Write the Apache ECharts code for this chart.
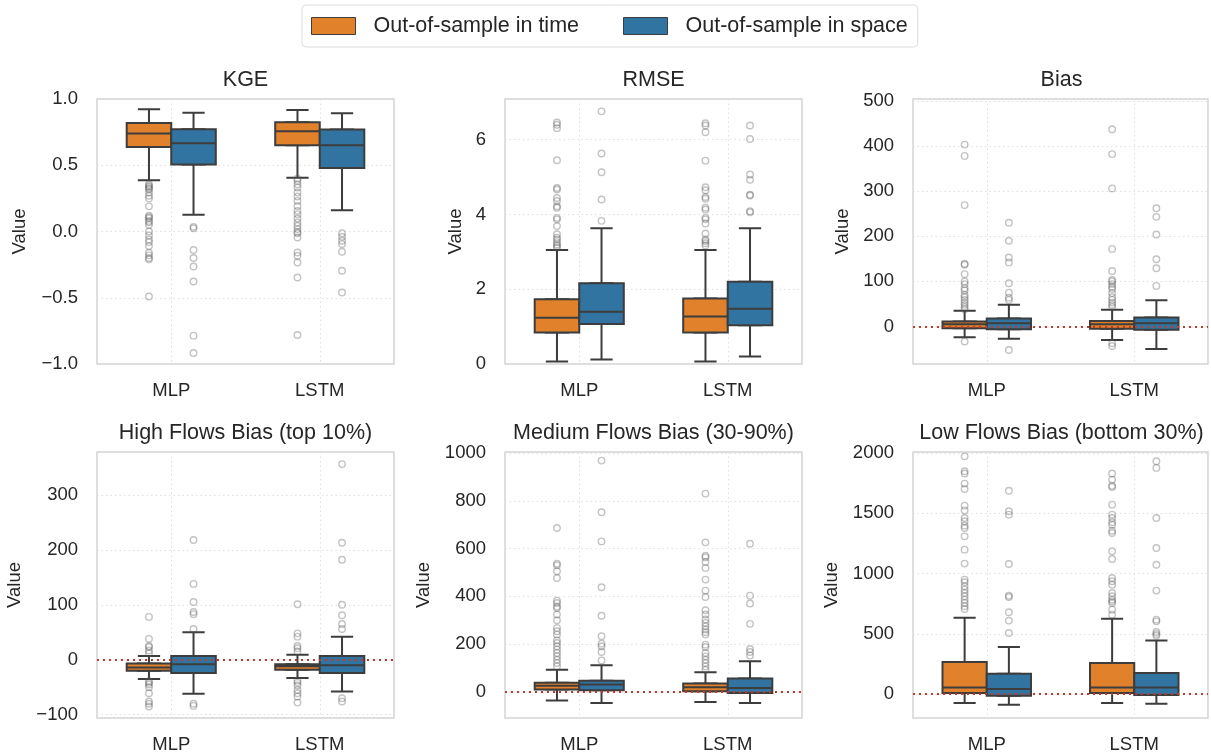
<!DOCTYPE html>
<html>
<head>
<meta charset="utf-8">
<script src="https://cdn.jsdelivr.net/npm/echarts@6/dist/echarts.min.js"></script>
<style>
  html, body { margin: 0; padding: 0; background: #fff; }
  #main { width: 1211px; height: 755px; }
</style>
</head>
<body>
<div id="main"></div>
<script>
// categories and hue groups
const models = ["MLP", "LSTM"];
const groups = ["Out-of-sample in time", "Out-of-sample in space"];

// box stats per model: [min whisker, Q1, median, Q3, max whisker]
const kgeTime = [[0.387, 0.638, 0.739, 0.819, 0.922], [0.405, 0.651, 0.756, 0.824, 0.917]];
const kgeSpace = [[0.126, 0.505, 0.666, 0.771, 0.897], [0.161, 0.48, 0.651, 0.769, 0.892]];
const kgeTimeOut = [
  [0.357, 0.345, 0.337, 0.326, 0.319, 0.294, 0.27, 0.25, 0.19, 0.12, 0.11, 0.1, 0.08, 0.07, 0.05, 0.0, -0.03, -0.06, -0.08, -0.11, -0.16, -0.18, -0.2, -0.21, -0.49],
  [0.399, 0.382, 0.357, 0.332, 0.294, 0.264, 0.231, 0.193, 0.156, 0.131, 0.098, 0.068, 0.043, 0.018, -0.003, -0.013, -0.045, -0.158, -0.183, -0.234, -0.347, -0.781]
];
const kgeSpaceOut = [
  [0.035, 0.025, -0.14, -0.2, -0.264, -0.377, -0.786, -0.917],
  [-0.013, -0.04, -0.07, -0.095, -0.153, -0.296, -0.46]
];

const rmseTime = [[0.07, 0.84, 1.24, 1.73, 3.05], [0.07, 0.84, 1.27, 1.75, 3.05]];
const rmseSpace = [[0.12, 1.07, 1.4, 2.16, 3.63], [0.2, 1.04, 1.48, 2.2, 3.63]];
const rmseTimeOut = [
  [6.46, 6.4, 6.31, 5.45, 4.71, 4.67, 4.44, 4.36, 4.22, 4.18, 3.91, 3.87, 3.69, 3.47, 3.38, 3.33, 3.26, 3.2, 3.16, 3.11],
  [6.44, 6.38, 6.2, 5.44, 4.73, 4.65, 4.47, 4.42, 4.18, 4.13, 3.91, 3.87, 3.76, 3.49, 3.33, 3.29, 3.23, 3.17]
];
const rmseSpaceOut = [
  [6.76, 5.63, 5.13, 4.4, 3.83],
  [6.38, 6.02, 5.07, 4.93, 4.53, 4.51, 4.09, 4.06]
];

const biasTime = [[-24, -4, 5, 11, 35], [-30, -5, 5, 12.5, 37]];
const biasSpace = [[-27, -6, 7, 18, 48], [-50, -7, 7, 20, 58]];
const biasTimeOut = [
  [403, 378, 269, 139, 137, 116, 100, 94, 85, 80, 70, 65, 59, 53, 48, 43, 38, -33],
  [437, 382, 306, 172, 123, 103, 100, 94, 88, 83, 74, 65, 59, 53, 48, 43, -37, -43]
];
const biasSpaceOut = [
  [230, 190, 153, 142, 96, 75, 64, 59, -52],
  [262, 243, 204, 149, 129, 90]
];

const highTime = [[-35, -20, -14, -7, 7], [-33, -18, -12, -8, 9]];
const highSpace = [[-62, -24, -8, 7, 50], [-58, -24, -10, 7, 42]];
const highTimeOut = [
  [78, 38, 25, 23, 17, 12, -39, -42, -45, -50, -61, -76, -80, -85],
  [101, 48, 42, 25, 21, 15, -38, -42, -47, -55, -61, -67, -78]
];
const highSpaceOut = [
  [218, 138, 105, 87, 83, 56, -80, -84],
  [356, 213, 182, 100, 81, 65, 56, -70, -76]
];

const medTime = [[-36, 10, 26, 38, 93], [-42, 3, 20, 35, 82]];
const medSpace = [[-46, 7, 31, 47, 112], [-46, -4, 17, 56, 128]];
const medTimeOut = [
  [686, 537, 530, 505, 477, 382, 372, 358, 351, 324, 300, 268, 254, 240, 216, 205, 191, 177, 163, 149, 135, 121, 107],
  [830, 626, 570, 563, 544, 519, 470, 424, 397, 342, 324, 303, 289, 275, 261, 250, 240, 198, 188, 163, 149, 135, 121, 107, 93]
];
const medSpaceOut = [
  [968, 752, 630, 438, 319, 233, 202, 191, 167, 132],
  [620, 403, 370, 285, 180, 167, 152]
];

const lowTime = [[-75, 8, 55, 266, 633], [-75, 8, 55, 257, 625]];
const lowSpace = [[-89, -14, 41, 169, 390], [-80, -8, 55, 174, 445]];
const lowTimeOut = [
  [1972, 1848, 1829, 1746, 1701, 1563, 1524, 1461, 1433, 1397, 1378, 1308, 1198, 1082, 949, 927, 894, 866, 838, 811, 783, 755, 728, 705],
  [1829, 1779, 1729, 1718, 1571, 1488, 1461, 1425, 1405, 1355, 1336, 1184, 1120, 963, 935, 907, 838, 811, 783, 769, 755, 700, 658]
];
const lowSpaceOut = [
  [1687, 1516, 1488, 1079, 816, 805, 678, 609, 506],
  [1931, 1876, 1461, 1212, 1073, 858, 617, 603, 515, 498, 484]
];

const panels = [
  { title: "KGE", time: kgeTime, space: kgeSpace, timeOut: kgeTimeOut, spaceOut: kgeSpaceOut, min: -1, max: 1, step: 0.5, dec: 1, zero: false, nameGap: 68 },
  { title: "RMSE", time: rmseTime, space: rmseSpace, timeOut: rmseTimeOut, spaceOut: rmseSpaceOut, min: 0, max: 7.09, step: 2, dec: 0, zero: false, nameGap: 40 },
  { title: "Bias", time: biasTime, space: biasSpace, timeOut: biasTimeOut, spaceOut: biasSpaceOut, min: -83, max: 504, step: 100, dec: 0, zero: true, nameGap: 61 },
  { title: "High Flows Bias (top 10%)", time: highTime, space: highSpace, timeOut: highTimeOut, spaceOut: highSpaceOut, min: -106, max: 378, step: 100, dec: 0, zero: true, nameGap: 73 },
  { title: "Medium Flows Bias (30-90%)", time: medTime, space: medSpace, timeOut: medTimeOut, spaceOut: medSpaceOut, min: -109, max: 1004, step: 200, dec: 0, zero: true, nameGap: 72 },
  { title: "Low Flows Bias (bottom 30%)", time: lowTime, space: lowSpace, timeOut: lowTimeOut, spaceOut: lowSpaceOut, min: -199, max: 2008, step: 500, dec: 0, zero: true, nameGap: 72 }
];

const colors = ["#e1812c", "#3274a1"];
const edge = "#3d3d3d";
const font = "Liberation Sans, Arial, Helvetica, sans-serif";
const colLeft = [97, 505, 913];
const rowTop = [99, 452];
const plotW = 297, plotH = [265, 266];
const dodge = 0.15;

const gridLine = { lineStyle: { color: "#e0e0e0", width: 1, type: [1.5, 3] } };

function tickFmt(step, dec) {
  return function (v) {
    const k = v / step;
    if (Math.abs(k - Math.round(k)) > 1e-6) return "";
    const s = Math.abs(v).toFixed(dec);
    return (v < -1e-9 ? "\u2212" : "") + s;
  };
}

const option = {
  animation: false,
  textStyle: { fontFamily: font },
  legend: {
    left: 302, top: 5,
    padding: [10, 10, 10, 9],
    itemWidth: 44, itemHeight: 17, itemGap: 44,
    borderColor: "#dcdcdc", borderWidth: 1, borderRadius: 4,
    selectedMode: false,
    textStyle: { fontSize: 21.5, color: "#262626", padding: [0, 0, 0, 13] },
    data: groups.map((g, k) => ({
      name: g, icon: "rect",
      itemStyle: { color: colors[k], borderColor: edge, borderWidth: 1 }
    }))
  },
  title: [], grid: [], xAxis: [], yAxis: [], series: []
};

panels.forEach((p, i) => {
  const col = i % 3, row = Math.floor(i / 3);
  const left = colLeft[col], top = rowTop[row];
  option.title.push({
    text: p.title, left: left + plotW / 2, top: top - 30, textAlign: "center", padding: 0,
    textStyle: { fontSize: 21.5, fontWeight: "normal", color: "#262626", fontFamily: font }
  });
  option.grid.push({
    left: left, top: top, width: plotW, height: plotH[row],
    show: true, borderColor: "#d4d4d4", borderWidth: 1.5, backgroundColor: "#fff"
  });
  const ax0 = option.xAxis.length;
  // visible axis: category labels at 0 and 1
  option.xAxis.push({
    gridIndex: i, type: "value", min: -0.5, max: 1.5, splitNumber: 2, minInterval: 1, maxInterval: 1,
    axisLine: { show: false }, axisTick: { show: false },
    axisLabel: {
      fontSize: 18.5, color: "#262626", margin: 17,
      formatter: v => (Math.abs(v - Math.round(v)) < 1e-6 && models[Math.round(v)]) ? models[Math.round(v)] : ""
    },
    splitLine: gridLine
  });
  // hidden axes so each box series sits alone (no automatic dodge)
  for (let h = 0; h < 3; h++) {
    option.xAxis.push({ gridIndex: i, type: "value", min: -0.5, max: 1.5, show: false });
  }
  option.yAxis.push({
    gridIndex: i, type: "value", min: p.min, max: p.max, splitNumber: 5,
    minInterval: p.step, maxInterval: p.step,
    name: "Value", nameLocation: "middle", nameGap: p.nameGap,
    nameTextStyle: { fontSize: 18.5, color: "#262626" },
    axisLine: { show: false }, axisTick: { show: false },
    axisLabel: { fontSize: 18.5, color: "#262626", margin: 19, formatter: tickFmt(p.step, p.dec) },
    splitLine: gridLine
  });

  const hues = [p.time, p.space];
  const outs = [p.timeOut, p.spaceOut];
  const sign = [-1, 1];
  const boxStyle = k => ({ color: colors[k], borderColor: edge, borderWidth: 2 });

  // whiskers with half-width caps
  hues.forEach((stats, k) => {
    option.series.push({
      name: groups[k], type: "boxplot", xAxisIndex: ax0 + 1 + k, yAxisIndex: i,
      boxWidth: ["15%", "15%"], silent: true, z: 2,
      itemStyle: boxStyle(k),
      data: stats.map((s, j) => [j + sign[k] * dodge, s[0], s[1], s[2], s[3], s[4]])
    });
  });
  // full-width boxes (Q1..Q3 with median)
  hues.forEach((stats, k) => {
    const s0 = {
      name: groups[k], type: "boxplot", xAxisIndex: k === 0 ? ax0 : ax0 + 3, yAxisIndex: i,
      boxWidth: ["30%", "30%"], silent: true, z: 3,
      itemStyle: boxStyle(k),
      data: stats.map((s, j) => [j + sign[k] * dodge, s[1], s[1], s[2], s[3], s[3]])
    };
    if (k === 1 && p.zero) {
      s0.markLine = {
        silent: true, symbol: "none", z: 6,
        label: { show: false },
        lineStyle: { color: "#c0392b", width: 2, type: [2, 4] },
        data: [{ yAxis: 0 }]
      };
    }
    option.series.push(s0);
  });
  // outliers
  outs.forEach((o, k) => {
    const pts = [];
    o.forEach((vals, j) => vals.forEach(v => pts.push([j + sign[k] * dodge, v])));
    option.series.push({
      type: "scatter", xAxisIndex: ax0, yAxisIndex: i, silent: true, z: 4,
      symbol: "circle", symbolSize: 6.5,
      itemStyle: { color: "rgba(0,0,0,0)", borderColor: "rgba(90,90,90,0.45)", borderWidth: 1.4 },
      data: pts
    });
  });
});

const chart = echarts.init(document.getElementById("main"));
chart.setOption(option);
</script>
</body>
</html>
